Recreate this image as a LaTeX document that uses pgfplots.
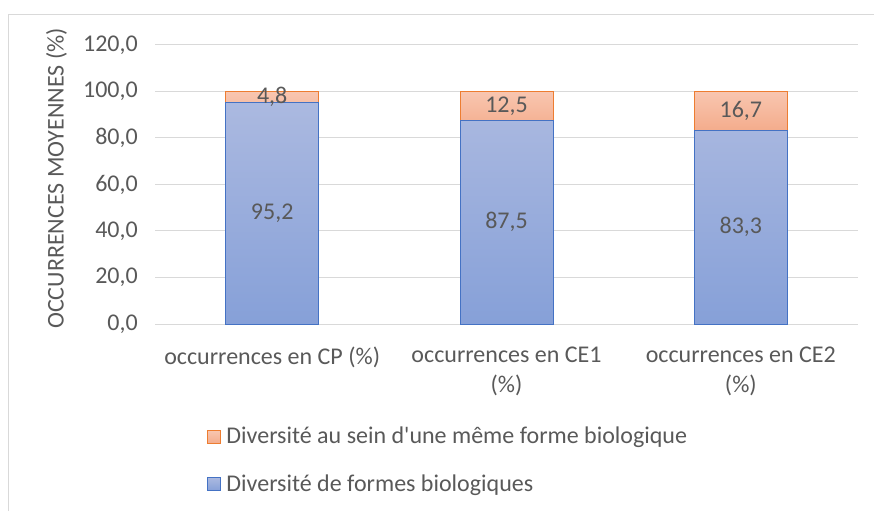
\documentclass[border=0pt]{standalone}
\usepackage{pgfplots}
\pgfplotsset{compat=1.18}
\usepackage{pgfplotstable}
\usepackage{fontspec}
\setmainfont{Carlito}

\definecolor{txt}{HTML}{595959}
\definecolor{grd}{HTML}{D9D9D9}
\definecolor{bedge}{HTML}{4472C4}
\definecolor{btop}{HTML}{ABB9E0}
\definecolor{bbot}{HTML}{86A0D8}
\definecolor{oedge}{HTML}{ED7D31}
\definecolor{otop}{HTML}{F8C6B0}
\definecolor{obot}{HTML}{F4AC8C}

\pgfplotstableread{
x forme sein
0 95.2 4.8
1 87.5 12.5
2 83.3 16.7
}\occ

\begin{document}
\fontsize{24}{30}\selectfont
\begin{tikzpicture}
\path[use as bounding box] (0pt,0pt) rectangle (874pt,511pt);
\draw[grd, line width=1pt] (8pt,0pt) -- (8pt,496pt) -- (874pt,496pt);
\begin{axis}[
    at={(155pt,187pt)}, anchor=south west,
    scale only axis,
    width=703pt, height=279pt,
    ybar stacked,
    bar width=93pt,
    xmin=-0.5, xmax=2.5,
    ymin=0, ymax=120,
    ytick={0,20,...,120},
    xtick=data,
    xticklabels={occurrences en CP (\%), {occurrences en CE1\\(\%)}, {occurrences en CE2\\(\%)}},
    xticklabel style={align=center, text=txt, yshift=-15pt},
    yticklabel style={text=txt, xshift=-9pt, /pgf/number format/.cd, fixed, fixed zerofill, precision=1, use comma},
    /pgf/number format/assume math mode=true,
    major tick length=0pt,
    axis lines*=left,
    x axis line style={draw=grd, line width=1pt, -},
    y axis line style={draw=none},
    ymajorgrids,
    grid style={draw=grd, line width=1pt},
    ylabel={OCCURRENCES MOYENNES (\%)},
    ylabel style={text=txt, xshift=6pt},
    nodes near coords={\pgfmathprintnumber[fixed, fixed zerofill, precision=1, use comma]{\pgfplotspointmeta}},
    every node near coord/.append style={text=txt, anchor=center},
    reverse legend,
    legend cell align=left,
    legend style={at={(0.07,-0.355)}, anchor=north west, draw=none, fill=none,
        text=txt, row sep=23pt, nodes={inner xsep=5pt}},
    legend image code/.code={\draw[#1] (0pt,-6pt) rectangle (13pt,7pt);},
]
\addplot[draw=bedge, line width=1pt, top color=btop, bottom color=bbot]
    table[x=x, y=forme, meta=forme] {\occ};
\addlegendentry{Diversité de formes biologiques}
\addplot[draw=oedge, line width=1pt, top color=otop, bottom color=obot]
    table[x=x, y=sein, meta=sein] {\occ};
\addlegendentry{Diversité au sein d\textquotesingle une même forme biologique}
\end{axis}
\end{tikzpicture}
\end{document}
